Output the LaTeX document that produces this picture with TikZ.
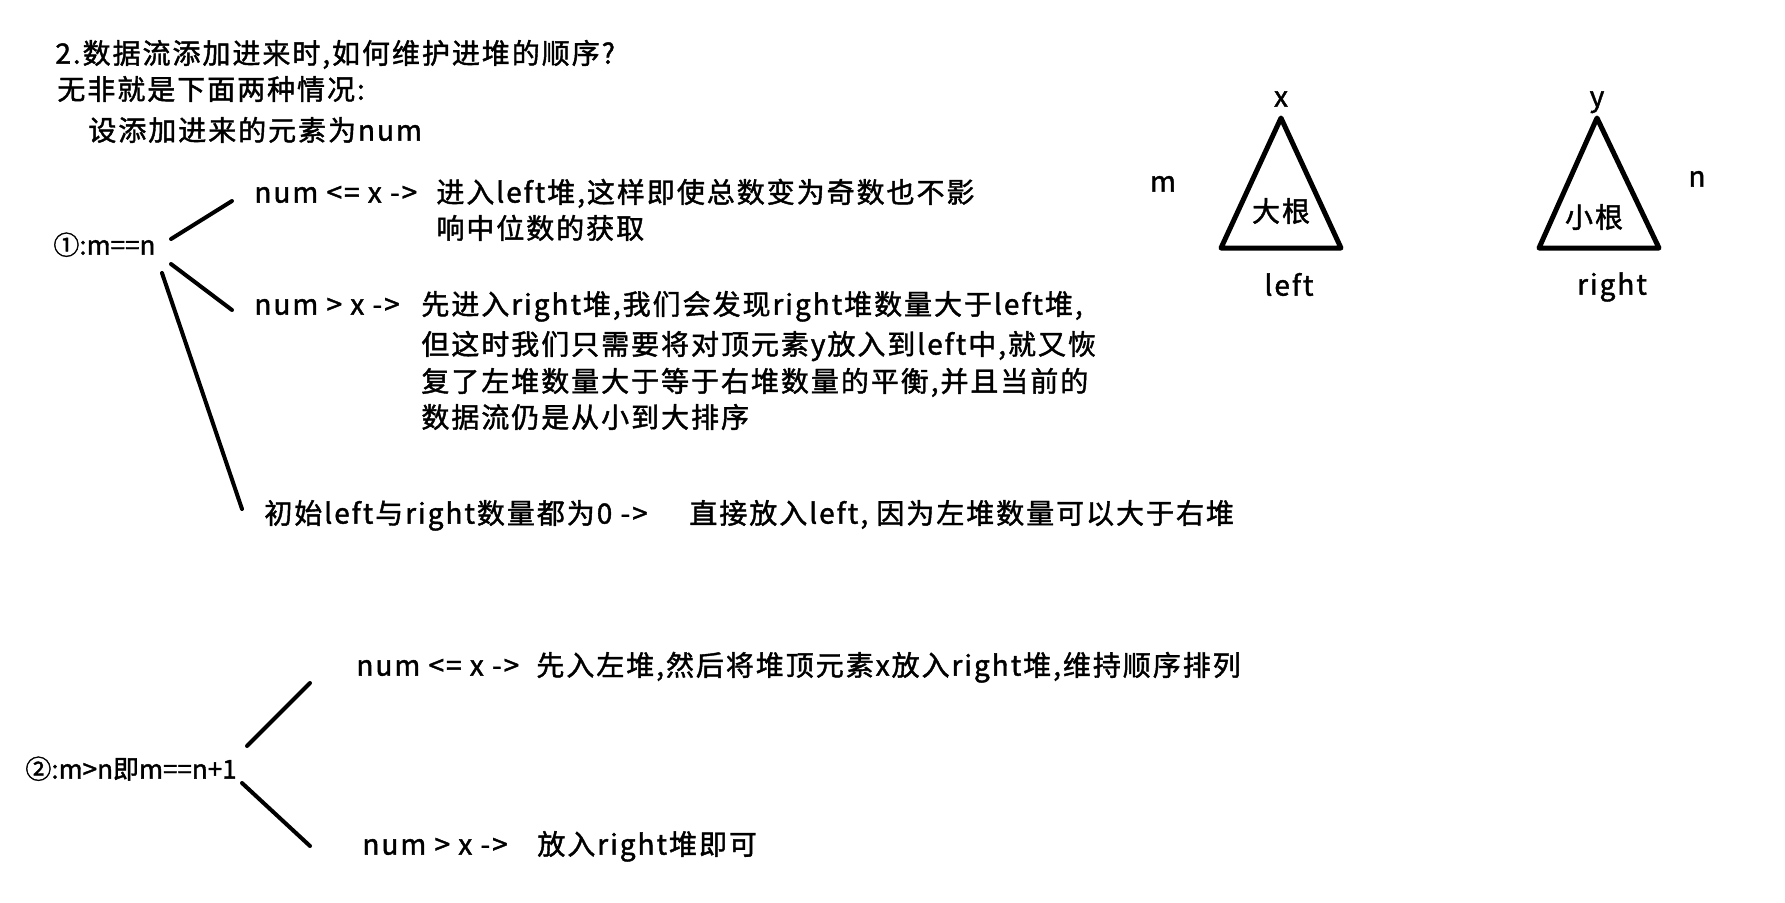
\documentclass[tikz,border=0pt]{standalone}
\usepackage{fontspec}
\setmainfont{Noto Sans CJK SC}
\newfontfamily\tf[LetterSpace=7,FakeBold=1.5]{Noto Sans CJK SC}
\newfontfamily\tfn[FakeBold=1.5]{Noto Sans CJK SC}
\begin{document}
\begin{tikzpicture}[x=0.5pt,y=-0.5pt,
  txt/.style={anchor=west, inner sep=0pt, text height=0.88em, text depth=0.12em, font=\tf\fontsize{14}{16}\selectfont},
  case/.style={txt, font=\tfn\fontsize{13}{16}\selectfont},
  lbl/.style={anchor=center, inner sep=0pt, text height=0.88em, text depth=0.12em, font=\tf\fontsize{14}{16}\selectfont},
  branch/.style={line width=2pt, line cap=round},
  heap/.style={line width=2.5pt, line join=round}]
\useasboundingbox (0,0) rectangle (1785,902);
% header
\node[txt] (t1) at (55,56) {2.数据流添加进来时,如何维护进堆的顺序?};
\node[txt] (t2) at (57,92) {无非就是下面两种情况:};
\node[txt] (t3) at (88,133) {设添加进来的元素为num};
% case 1
\node[case] (c1) at (53,247) {①:m==n};
\node[txt] (a1) at (254,195) {num <= x ->};
\node[txt] (a1t) at (436,195) {进入left堆,这样即使总数变为奇数也不影};
\node[txt] (a1u) at (436,231) {响中位数的获取};
\node[txt] (a2) at (254,307) {num > x ->};
\node[txt] (a2t) at (421,307) {先进入right堆,我们会发现right堆数量大于left堆,};
\node[txt] (a2u) at (421,347) {但这时我们只需要将对顶元素y放入到left中,就又恢};
\node[txt] (a2v) at (421,384) {复了左堆数量大于等于右堆数量的平衡,并且当前的};
\node[txt] (a2w) at (421,420) {数据流仍是从小到大排序};
\node[txt] (b1) at (264,516) {初始left与right数量都为0 ->};
\node[txt] (b1t) at (689,516) {直接放入left, 因为左堆数量可以大于右堆};
% case 2
\node[case] (c2) at (25,771) {②:m>n即m==n+1};
\node[txt] (d1) at (356,668) {num <= x ->};
\node[txt] (d1t) at (536,668) {先入左堆,然后将堆顶元素x放入right堆,维持顺序排列};
\node[txt] (d2) at (362,847) {num > x ->};
\node[txt] (d2t) at (537,847) {放入right堆即可};
% branch lines
\coordinate (p1a) at (171,239); \coordinate (p1b) at (232,201);
\coordinate (p2a) at (171,264); \coordinate (p2b) at (232,310);
\coordinate (p3a) at (162,273); \coordinate (p3b) at (242,509);
\coordinate (q1a) at (247,746); \coordinate (q1b) at (310,683);
\coordinate (q2a) at (242,783); \coordinate (q2b) at (310,846);
\draw[branch] (p1a) -- (p1b);
\draw[branch] (p2a) -- (p2b);
\draw[branch] (p3a) -- (p3b);
\draw[branch] (q1a) -- (q1b);
\draw[branch] (q2a) -- (q2b);
% heaps
\coordinate (L1) at (1281,118); \coordinate (L2) at (1221,248); \coordinate (L3) at (1341,248);
\coordinate (R1) at (1597,118); \coordinate (R2) at (1539,248); \coordinate (R3) at (1659,248);
\draw[heap] (L1) -- (L2) -- (L3) -- cycle;
\draw[heap] (R1) -- (R2) -- (R3) -- cycle;
\node[lbl] (lx) at (1281,99) {x};
\node[lbl] (lbig) at (1281,214) {大根};
\node[lbl] (lleft) at (1289,288) {left};
\node[lbl] (lm) at (1163,184) {m};
\node[lbl] (ry) at (1597,99) {y};
\node[lbl] (rsmall) at (1594,220) {小根};
\node[lbl] (rright) at (1612,287) {right};
\node[lbl] (rn) at (1697,179) {n};
\end{tikzpicture}
\end{document}
